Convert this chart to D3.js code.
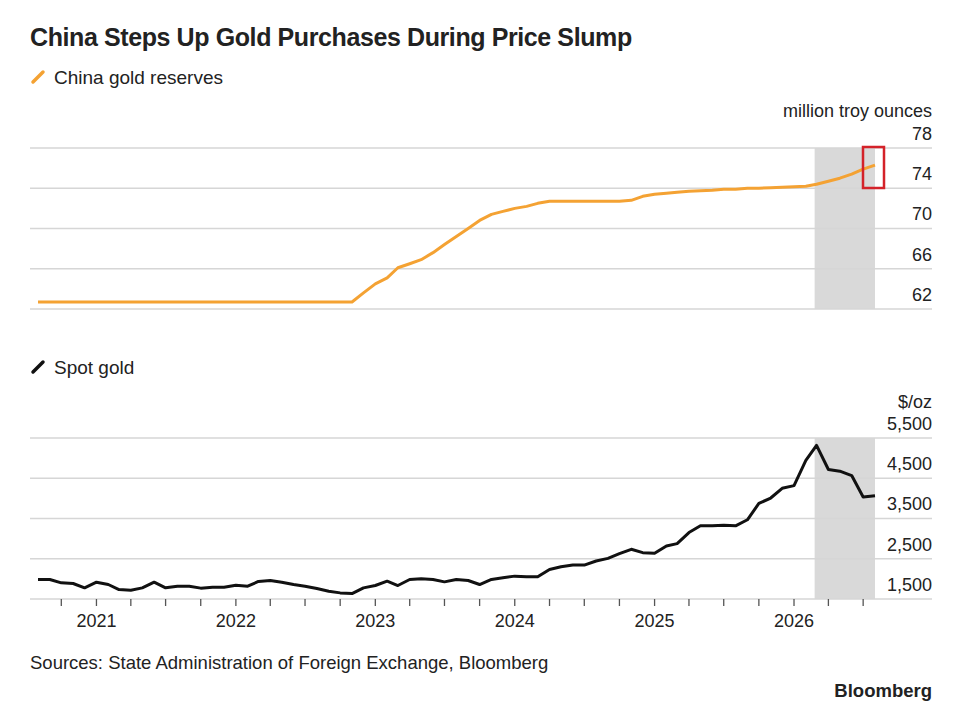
<!DOCTYPE html>
<html lang="en">
<head>
<meta charset="UTF-8">
<title>China Steps Up Gold Purchases During Price Slump</title>
<script src="https://cdn.jsdelivr.net/npm/d3@7"></script>
<style>
  body { margin: 0; background: #fff; }
  text { font-family: "Liberation Sans", Arial, sans-serif; fill: #222; }
</style>
</head>
<body>
<svg id="chart" width="974" height="710"></svg>
<script>
// monthly, Aug 2020 .. Aug 2026
var startMonth = new Date(2020, 7, 1);
var reserves = [
  60.7, 60.7, 60.7, 60.7, 60.7, 60.7, 60.7, 60.7, 60.7, 60.7, 60.7, 60.7,
  60.7, 60.7, 60.7, 60.7, 60.7, 60.7, 60.7, 60.7, 60.7, 60.7, 60.7, 60.7,
  60.7, 60.7, 60.7, 60.7, 61.6, 62.5, 63.1, 64.1, 64.5, 64.9, 65.6, 66.4,
  67.2, 68.0, 68.8, 69.4, 69.7, 70.0, 70.2, 70.5, 70.7, 70.7, 70.7, 70.7,
  70.7, 70.7, 70.7, 70.8, 71.2, 71.4, 71.5, 71.6, 71.7, 71.75, 71.8, 71.9,
  71.9, 72.0, 72.0, 72.05, 72.1, 72.15, 72.2, 72.4, 72.7, 73.0, 73.4, 73.9,
  74.3
];
var spot = [
  1485, 1485, 1402, 1385, 1277, 1418, 1360, 1235, 1218, 1277, 1418, 1277,
  1318, 1318, 1270, 1293, 1293, 1343, 1318, 1435, 1460, 1418, 1360, 1318,
  1260, 1193, 1152, 1135, 1277, 1335, 1443, 1335, 1485, 1501, 1485, 1426,
  1485, 1460, 1360, 1485, 1527, 1568, 1552, 1552, 1735, 1801, 1843, 1843,
  1943, 2009, 2126, 2235, 2151, 2135, 2318, 2376, 2651, 2818, 2818, 2834,
  2818, 2968, 3375, 3509, 3750, 3817, 4442, 4817, 4217, 4175, 4067, 3534,
  3567
];
var resGrid = [76, 72, 68, 64, 60];
var resLabels = [78, 74, 70, 66, 62];
var spotGrid = [5000, 4000, 3000, 2000, 1000];
var spotLabels = [5500, 4500, 3500, 2500, 1500];
var yearTicks = [2021, 2022, 2023, 2024, 2025, 2026];
var shadeFrom = new Date(2026, 1, 24), shadeTo = new Date(2026, 7, 1);

var dates = reserves.map(function (d, i) { return d3.timeMonth.offset(startMonth, i); });

var svg = d3.select("#chart");
var x = d3.scaleTime().domain([dates[0], dates[dates.length - 1]]).range([38, 875]);
var yTop = d3.scaleLinear().domain([60, 76]).range([309, 148]);
var yBot = d3.scaleLinear().domain([1000, 5000]).range([599, 438]);
var gridColor = "#d6d6d6";

svg.append("text").attr("x", 30).attr("y", 46).text("China Steps Up Gold Purchases During Price Slump")
  .style("font-size", "25px").style("font-weight", "bold").style("letter-spacing", "-0.4px");

function legend(y, color, label) {
  svg.append("line").attr("x1", 33).attr("x2", 43).attr("y1", y + 5).attr("y2", y - 5)
    .attr("stroke", color).attr("stroke-width", 3.5).attr("stroke-linecap", "round");
  svg.append("text").attr("x", 54).attr("y", y + 7).text(label).style("font-size", "19px");
}

function panel(y, grid, labels, data, color, unit, unitY) {
  var r = y.range();
  svg.append("rect").attr("x", x(shadeFrom)).attr("width", x(shadeTo) - x(shadeFrom))
    .attr("y", r[1]).attr("height", r[0] - r[1]).attr("fill", "#d9d9d9");
  svg.selectAll(null).data(grid).enter().append("line")
    .attr("x1", 30).attr("x2", 932).attr("y1", function (d) { return y(d); }).attr("y2", function (d) { return y(d); })
    .attr("stroke", gridColor).attr("stroke-width", 1.5);
  svg.selectAll(null).data(labels).enter().append("text")
    .attr("x", 932).attr("y", function (d) { return y(d) + 12; }).attr("text-anchor", "end")
    .style("font-size", "18px").text(function (d) { return d3.format(",")(d); });
  svg.append("text").attr("x", 932).attr("y", unitY).attr("text-anchor", "end").style("font-size", "18px").text(unit);
  svg.append("path").datum(data)
    .attr("d", d3.line().x(function (d, i) { return x(dates[i]); }).y(function (d) { return y(d); }))
    .attr("fill", "none").attr("stroke", color).attr("stroke-width", 3).attr("stroke-linejoin", "round");
}

legend(77, "#f4a233", "China gold reserves");
panel(yTop, resGrid, resLabels, reserves, "#f4a233", "million troy ounces", 117);
svg.append("rect").attr("x", 863).attr("y", 147).attr("width", 21).attr("height", 41)
  .attr("fill", "none").attr("stroke", "#d42229").attr("stroke-width", 2.5);

legend(367, "#111", "Spot gold");
panel(yBot, spotGrid, spotLabels, spot, "#111", "$/oz", 408);

// quarterly ticks and year labels
var quarters = d3.timeMonth.every(3).range(new Date(2020, 9, 1), new Date(2026, 9, 1));
svg.selectAll(null).data(quarters).enter().append("line")
  .attr("x1", function (d) { return x(d); }).attr("x2", function (d) { return x(d); })
  .attr("y1", 599).attr("y2", 606).attr("stroke", "#555").attr("stroke-width", 1.3);
svg.selectAll(null).data(yearTicks).enter().append("text")
  .attr("x", function (d) { return x(new Date(d, 0, 1)); }).attr("y", 627).attr("text-anchor", "middle")
  .style("font-size", "18px").text(function (d) { return d; });

svg.append("text").attr("x", 30).attr("y", 669).style("font-size", "18.5px")
  .text("Sources: State Administration of Foreign Exchange, Bloomberg");
svg.append("text").attr("x", 932).attr("y", 697).attr("text-anchor", "end")
  .style("font-size", "18.5px").style("font-weight", "bold").text("Bloomberg");
</script>
</body>
</html>
